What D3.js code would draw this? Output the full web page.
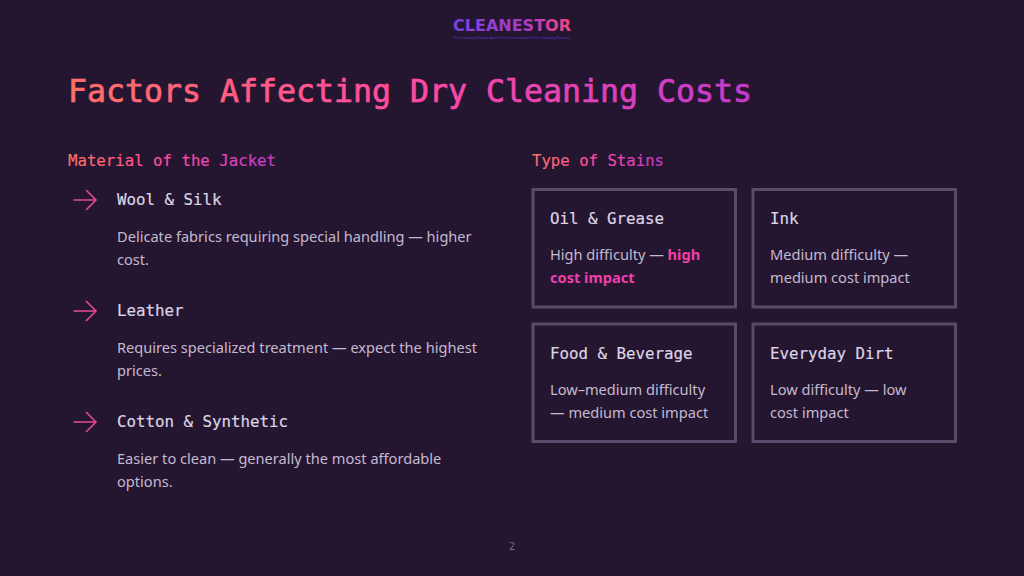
<!DOCTYPE html>
<html><head><meta charset="utf-8">
<script src="https://d3js.org/d3.v7.min.js"></script>
<style>html,body{margin:0;background:#241631;width:1024px;height:576px;overflow:hidden}svg{display:block}</style>
</head><body><svg id="c" width="1024" height="576"></svg>
<script>
const brand = "CLEANESTOR";
const tagline = "Pro Cleaning Guides And Service Journalism From Cleaning Nations";
const title = "Factors Affecting Dry Cleaning Costs";
const leftHeading = "Material of the Jacket";
const rightHeading = "Type of Stains";
const materials = ["Wool & Silk", "Leather", "Cotton & Synthetic"];
const materialLines = [
  ["Delicate fabrics requiring special handling — higher", "cost."],
  ["Requires specialized treatment — expect the highest", "prices."],
  ["Easier to clean — generally the most affordable", "options."]
];
const stains = ["Oil & Grease", "Ink", "Food & Beverage", "Everyday Dirt"];
const stainLines = [
  [[["High difficulty — ",0],["high",1]], [["cost impact",1]]],
  [[["Medium difficulty —",0]], [["medium cost impact",0]]],
  [[["Low–medium difficulty",0]], [["— medium cost impact",0]]],
  [[["Low difficulty — low",0]], [["cost impact",0]]]
];
const pageNumber = "2";

const MONO = "'DejaVu Sans Mono','Liberation Mono',monospace";
const SANS = "'Noto Sans','Open Sans',sans-serif";
const svg = d3.select("#c");
const defs = svg.append("defs");
function grad(id, stops){
  const g = defs.append("linearGradient").attr("id",id).attr("x1","0").attr("x2","1").attr("y1","0").attr("y2","0");
  stops.forEach(([o,c])=>g.append("stop").attr("offset",o).attr("stop-color",c));
}
grad("warm",[[0,"#ff7066"],[0.5,"#ff4aa2"],[1,"#c23ad0"]]);
grad("logo",[[0,"#7a42e0"],[0.6,"#a83cc4"],[1,"#f5487c"]]);

function txt(x,y,s,size,font,fill,opts={}){
  const t = svg.append("text").attr("x",x).attr("y",y).text(s)
    .attr("font-size",size).attr("font-family",font).attr("fill",fill)
    .attr("font-weight",opts.weight||400);
  if(opts.len) t.attr("textLength",opts.len).attr("lengthAdjust",opts.adjust||"spacingAndGlyphs");
  if(opts.anchor) t.attr("text-anchor",opts.anchor);
  if(opts.stroke) t.attr("stroke",fill).attr("stroke-width",opts.stroke);
  return t;
}
// header
txt(453,31,brand,15.5,"'DejaVu Sans',sans-serif","url(#logo)",{weight:700,len:118});
txt(512,38.5,tagline,3.6,SANS,"#5a34c0",{anchor:"middle",len:116});
txt(68,102,title,32.5,MONO,"url(#warm)",{stroke:0.7,len:684});
txt(68,166,leftHeading,16,MONO,"url(#warm)",{stroke:0.15,len:208});
txt(532,166,rightHeading,16,MONO,"url(#warm)",{stroke:0.15,len:132});

// left list
const rowY = d3.scalePoint().domain(d3.range(materials.length)).range([206,428]);
materials.forEach((m,i)=>{
  const y = rowY(i);
  const a = svg.append("g").attr("transform",`translate(0,${y-6})`)
    .attr("fill","none").attr("stroke","#ec4899").attr("stroke-width",1.5);
  a.append("path").attr("d",d3.line()([[73.5,0],[96,0]]));
  a.append("path").attr("d",d3.line()([[86,-10],[96,0],[86,10]]));
  txt(117,y-1,m,16,MONO,"#ddd3e4",{stroke:0.2,len:m.length*9.5});
  materialLines[i].forEach((l,j)=>{
    txt(117,y+36+j*23,l,14.6,SANS,"#c4b9cf");
  });
});

// right cards
const colX = d3.scalePoint().domain([0,1]).range([531.5,751.5]);
const rowYc = d3.scalePoint().domain([0,1]).range([188,322.5]);
const cardW = 205.5, cardH = 120.5;
stains.forEach((s,i)=>{
  const x = colX(i%2), y = rowYc(Math.floor(i/2));
  svg.append("rect").attr("x",x+1.5).attr("y",y+1.5).attr("width",cardW-3).attr("height",cardH-3)
    .attr("fill","none").attr("stroke","#594a6b").attr("stroke-width",3);
  txt(x+18.5,y+36,s,16,MONO,"#ddd3e4",{stroke:0.2,len:s.length*9.5});
  stainLines[i].forEach((parts,j)=>{
    const t = svg.append("text").attr("x",x+18.5).attr("y",y+72+j*23)
      .attr("font-size",14.6).attr("font-family",SANS).attr("xml:space","preserve");
    parts.forEach(([p,hot])=>{
      t.append("tspan").text(p).attr("fill",hot?"#f03fa8":"#c4b9cf").attr("font-weight",hot?700:400);
    });
  });
});
txt(512,550,pageNumber,10.5,SANS,"#7c6f8a",{anchor:"middle"});
</script></body></html>
